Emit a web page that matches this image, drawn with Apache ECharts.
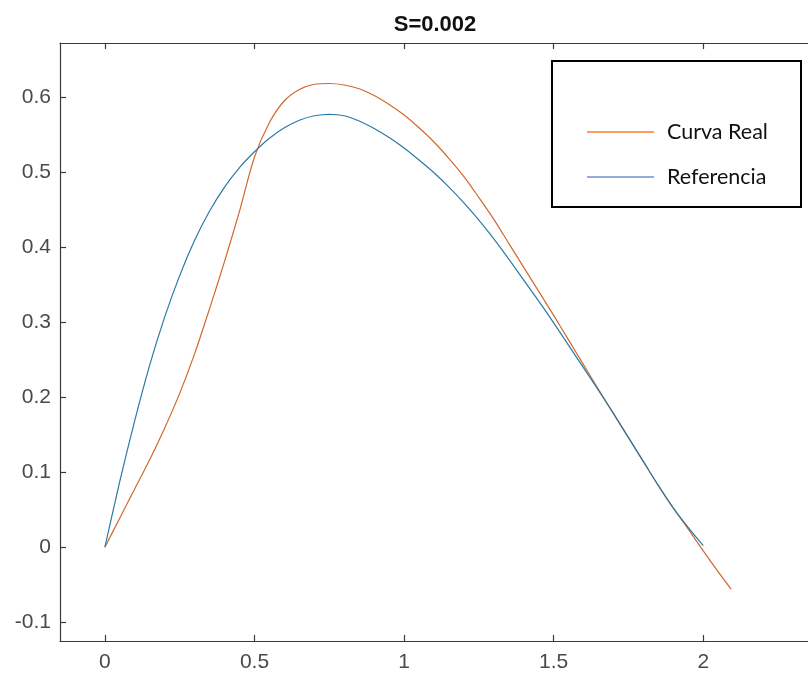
<!DOCTYPE html>
<html>
<head>
<meta charset="utf-8">
<title>S=0.002</title>
<script src="https://cdn.jsdelivr.net/npm/echarts@6/dist/echarts.min.js"></script>
<style>
  html, body { margin: 0; padding: 0; background: #fff; }
  #main { width: 808px; height: 681px; }
</style>
</head>
<body>
<div id="main"></div>
<script>
// values
const titleText = 'S=0.002';
const seriesNames = ['Curva Real', 'Referencia'];

const realX = [0, 0.05, 0.1, 0.15, 0.2, 0.25, 0.3, 0.35, 0.4, 0.45, 0.5, 0.55, 0.6, 0.65, 0.7, 0.75,
  0.8, 0.85, 0.9, 0.95, 1.0, 1.05, 1.1, 1.15, 1.2, 1.25, 1.3, 1.35, 1.4, 1.45, 1.5, 1.55, 1.6, 1.65, 1.7, 1.75,
  1.8, 1.85, 1.9, 1.95, 2.0, 2.05, 2.093];
const realY = [0, 0.039, 0.078, 0.117, 0.159, 0.205, 0.258, 0.318, 0.381, 0.448, 0.52, 0.566, 0.595, 0.61, 0.617, 0.618,
  0.616, 0.611, 0.602, 0.59, 0.576, 0.559, 0.54, 0.518, 0.494, 0.466, 0.437, 0.405, 0.373, 0.341, 0.309, 0.276, 0.243, 0.21, 0.178, 0.146,
  0.114, 0.082, 0.052, 0.024, -0.005, -0.033, -0.056];

const refX = [0, 0.05, 0.1, 0.15, 0.2, 0.25, 0.3, 0.35, 0.4, 0.45, 0.5, 0.55, 0.6, 0.65, 0.7, 0.75,
  0.8, 0.85, 0.9, 0.95, 1.0, 1.05, 1.1, 1.15, 1.2, 1.25, 1.3, 1.35, 1.4, 1.45, 1.5, 1.55, 1.6, 1.65, 1.7, 1.75,
  1.8, 1.85, 1.9, 1.95, 2.0];
const refY = [0, 0.088, 0.169, 0.243, 0.307, 0.362, 0.409, 0.448, 0.48, 0.506, 0.527, 0.545, 0.559, 0.569, 0.575, 0.577,
  0.575, 0.568, 0.558, 0.546, 0.532, 0.516, 0.499, 0.48, 0.459, 0.436, 0.411, 0.384, 0.356, 0.328, 0.299, 0.269, 0.239, 0.209, 0.178, 0.146,
  0.114, 0.082, 0.052, 0.026, 0.002];

const xTicks = [0, 0.5, 1, 1.5, 2];
const yTicks = [-0.1, 0, 0.1, 0.2, 0.3, 0.4, 0.5, 0.6];

const realColor = '#d2682c';
const refColor = '#2a7aa6';

const chart = echarts.init(document.getElementById('main'));

const axisLineStyle = { color: '#3a3a3a', width: 1.2 };
const labelStyle = { color: '#4a4a4a', fontSize: 21, fontFamily: 'Liberation Sans, Arial, sans-serif' };

function zip(xs, ys) {
  return xs.map(function(x, i) { return [x, ys[i]]; });
}

const option = {
  animation: false,
  backgroundColor: '#fff',
  title: {
    text: titleText,
    left: 430,
    textAlign: 'center',
    top: 9,
    textStyle: { fontSize: 22, fontWeight: 'bold', color: '#111', fontFamily: 'Liberation Sans, Arial, sans-serif' }
  },
  grid: { left: 60, right: -9, top: 43, bottom: 40 },
  xAxis: [
    {
      type: 'value', position: 'bottom', min: -0.15, max: 2.35,
      axisLine: { show: true, onZero: false, lineStyle: axisLineStyle },
      axisTick: { show: true, inside: true, length: 6, customValues: xTicks, lineStyle: axisLineStyle },
      axisLabel: Object.assign({ customValues: xTicks, margin: 11 }, labelStyle),
      splitLine: { show: false }
    },
    {
      type: 'value', position: 'top', min: -0.15, max: 2.35,
      axisLine: { show: true, onZero: false, lineStyle: axisLineStyle },
      axisTick: { show: true, inside: true, length: 6, customValues: xTicks, lineStyle: axisLineStyle },
      axisLabel: { show: false },
      splitLine: { show: false }
    }
  ],
  yAxis: {
    type: 'value', min: -0.125, max: 0.672,
    axisLine: { show: true, onZero: false, lineStyle: axisLineStyle },
    axisTick: { show: true, inside: true, length: 6, customValues: yTicks, lineStyle: axisLineStyle },
    axisLabel: Object.assign({ customValues: yTicks, margin: 9 }, labelStyle),
    splitLine: { show: false }
  },
  graphic: [
    {
      type: 'rect', left: 551, top: 60, z: 3,
      shape: { width: 249, height: 146 },
      style: { fill: '#fff', stroke: '#000', lineWidth: 2 }
    }
  ],
  legend: {
    orient: 'vertical',
    left: 582,
    top: 116,
    icon: 'rect',
    itemWidth: 67,
    itemHeight: 1.6,
    itemGap: 23,
    z: 5,
    data: [
      { name: seriesNames[0], itemStyle: { color: '#ff7a2a' } },
      { name: seriesNames[1], itemStyle: { color: '#6f92d0' } }
    ],
    textStyle: { fontSize: 21.5, color: '#111', fontFamily: 'Lato, sans-serif', padding: [0, 0, 0, 8], lineHeight: 22 }
  },
  series: [
    {
      name: seriesNames[0], type: 'line', symbol: 'none', smooth: 0.3,
      data: zip(realX, realY),
      lineStyle: { color: realColor, width: 1.2 },
      itemStyle: { color: realColor }
    },
    {
      name: seriesNames[1], type: 'line', symbol: 'none', smooth: 0.3,
      data: zip(refX, refY),
      lineStyle: { color: refColor, width: 1.2 },
      itemStyle: { color: refColor }
    }
  ]
};
chart.setOption(option);
</script>
</body>
</html>
